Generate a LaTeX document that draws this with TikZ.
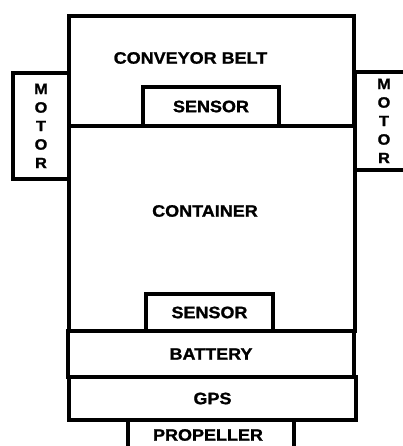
\documentclass[tikz,border=0pt]{standalone}
\usepackage{fontspec}
\setmainfont{Liberation Sans}[FakeStretch=1.09,BoldFeatures={FakeBold=1.2}]

\begin{document}
\begin{tikzpicture}[
  x=1pt,y=1pt,
  block/.style={draw,line width=3.8pt,inner sep=0pt},
  smallblock/.style={draw,line width=3.2pt,inner sep=0pt},
  caption/.style={font=\fontsize{16.5}{18}\selectfont\bfseries},
  upright/.style={font=\fontsize{15}{18.5}\selectfont\bfseries,align=center}
]
  \clip (0,0) rectangle (403,446);
  \fill[white] (0,0) rectangle (403,446);
  \node[block,minimum width=285pt,minimum height=110pt] (belt) at (211.5,375) {};
  \node[caption] (beltlabel) at (190.5,388) {CONVEYOR BELT};
  \node[block,minimum width=56pt,minimum height=106pt,upright] (motorL) at (41,320) {M\\O\\T\\O\\R};
  \node[block,minimum width=58pt,minimum height=98pt,upright] (motorR) at (384,325) {M\\O\\T\\O\\R};
  \node[smallblock,minimum width=136pt,minimum height=39pt,caption] (sensorT) at (211,339.5) {SENSOR};
  \node[block,minimum width=286pt,minimum height=205pt] (container) at (212,217.5) {};
  \node[caption] (containerlabel) at (205,235) {CONTAINER};
  \node[smallblock,minimum width=127pt,minimum height=37pt,caption] (sensorB) at (209.5,133.5) {SENSOR};
  \node[block,minimum width=286pt,minimum height=46pt,caption] (battery) at (211,92) {BATTERY};
  \node[block,minimum width=287pt,minimum height=43pt,caption] (gps) at (212.5,47.5) {GPS};
  \node[smallblock,minimum width=166pt,minimum height=38pt] (propeller) at (211,7) {};
  \node[caption] (propellerlabel) at (208,11) {PROPELLER};
\end{tikzpicture}
\end{document}
